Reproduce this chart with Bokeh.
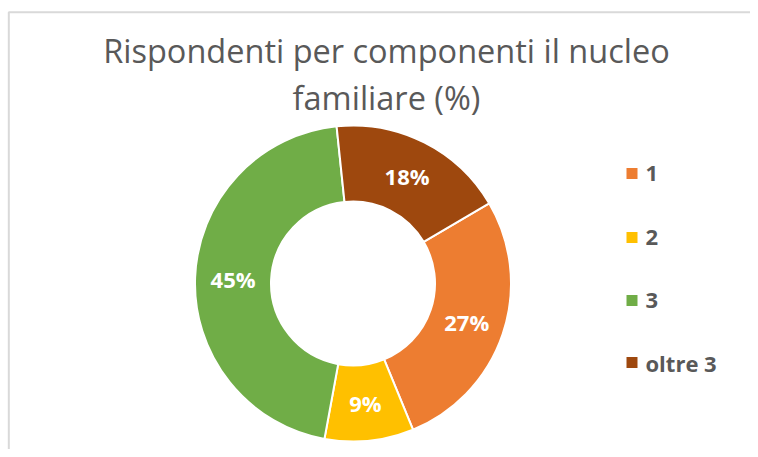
import numpy as np
from bokeh.plotting import figure
from bokeh.models import Range1d, ColumnDataSource
from bokeh.core.properties import value
from bokeh.embed import file_html
from bokeh.resources import INLINE

# ---- data ----
categories = ["1", "2", "3", "oltre 3"]
counts = [3, 1, 5, 2]
colors = ["#ED7D31", "#FFC000", "#70AD47", "#9E480E"]
title_lines = ["Rispondenti per componenti il nucleo", "familiare (%)"]

# ---- layout constants (pixels) ----
W, H = 750, 449
CX, CY = 352.5, H - 283.0
R_OUT, R_IN = 158.0, 82.0
START_DEG = 30.5  # math angle of first slice start (59.5 deg clockwise from top)

vals = np.array(counts, dtype=float)
frac = vals / vals.sum()
cum = np.concatenate([[0.0], np.cumsum(frac)])
a0 = np.deg2rad(START_DEG)
starts = a0 - cum[:-1] * 2 * np.pi
ends = a0 - cum[1:] * 2 * np.pi
mids = (starts + ends) / 2
r_mid = (R_OUT + R_IN) / 2
labels = [f"{round(f * 100)}%" for f in frac]

src = ColumnDataSource(dict(
    start=starts, end=ends, color=colors,
    lx=CX + r_mid * np.cos(mids), ly=CY + r_mid * np.sin(mids), label=labels,
))

p = figure(width=W, height=H, x_range=Range1d(0, W), y_range=Range1d(0, H),
           output_backend="svg", toolbar_location=None, min_border=0)
p.axis.visible = False
p.grid.visible = False
p.outline_line_color = None
p.background_fill_color = "white"
p.border_fill_color = "white"

# chart frame (partially visible)
p.line(x=[8.3, 8.3, W + 20], y=[-20, H - 11.7, H - 11.7], line_color="#D9D9D9", line_width=2)

p.annular_wedge(x=CX, y=CY, inner_radius=R_IN, outer_radius=R_OUT,
                start_angle="start", end_angle="end", direction="clock",
                fill_color="color", line_color="white", line_width=2, source=src)

p.text(x="lx", y="ly", text="label", source=src, text_color="white",
       text_font=value("Open Sans"), text_font_style="bold", text_font_size="22px",
       text_align="center", text_baseline="middle")

# title
p.text(x=[386, 386], y=[H - 50, H - 97], text=title_lines,
       text_color="#595959", text_font=value("Open Sans"), text_font_size="32.5px",
       text_align="center", text_baseline="alphabetic")

# legend
leg_y = [H - 173, H - 237, H - 300, H - 362]
p.scatter(x=[631.5] * 4, y=leg_y, marker="square", size=11, fill_color=colors, line_color=None)
p.text(x=[645] * 4, y=leg_y, text=categories, text_color="#595959",
       text_font=value("Open Sans"), text_font_style="bold", text_font_size="22px",
       text_align="left", text_baseline="middle")

open("out.html", "w").write(file_html(p, INLINE))
